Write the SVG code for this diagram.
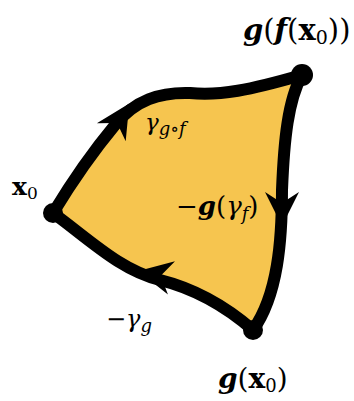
<svg xmlns="http://www.w3.org/2000/svg" width="354" height="401" viewBox="0 0 354 401">
<style>
.edge{fill:none;stroke:#000;stroke-width:12;stroke-linecap:round;stroke-linejoin:round}
.dot{fill:#000}
.lbl{font-family:"DejaVu Serif","Liberation Serif",serif;fill:#000}
.b{font-weight:bold}
.i{font-style:italic}
</style>
<defs>
<path id="ah" d="M10,0 L-24,-17 L-13,0 L-24,17 Z" fill="#000"/>
</defs>
<path id="region" d="M53,213 C70,185 90,155 115,125 C135,100 160,92 190,93 C220,96 250,90 302,75 C288,100 284,140 282,190 C282,240 278,295 253,330 C230,310 200,290 160,280 C120,270 90,240 53,213 Z" fill="#F6C54F"/>
<g id="connectors">
<path class="edge" d="M53,213 C70,185 90,155 115,125 C135,100 160,92 190,93 C220,96 250,90 302,75"/>
<path class="edge" d="M302,75 C288,100 284,140 282,190 C282,240 278,295 253,330"/>
<path class="edge" d="M253,330 C230,310 200,290 160,280 C120,270 90,240 53,213"/>
<use href="#ah" transform="translate(124,112) rotate(-58)"/>
<use href="#ah" transform="translate(282,216) rotate(90)"/>
<use href="#ah" transform="translate(148,273) rotate(192)"/>
</g>
<g id="n-x0"><circle class="dot" cx="53" cy="213" r="10"/><text class="lbl b" x="12" y="195" font-size="25">x<tspan font-size="17" font-weight="normal" dy="4">0</tspan></text></g>
<g id="n-gfx0"><circle class="dot" cx="302" cy="75" r="11"/><text class="lbl" x="243" y="40" font-size="29"><tspan class="b i">g</tspan>(<tspan class="b i">f</tspan>(<tspan class="b">x</tspan><tspan font-size="19" dy="4">0</tspan><tspan dy="-4">))</tspan></text></g>
<g id="n-gx0"><circle class="dot" cx="253" cy="330" r="10"/><text class="lbl" x="218" y="388" font-size="28"><tspan class="b i">g</tspan>(<tspan class="b">x</tspan><tspan font-size="18" dy="4">0</tspan><tspan dy="-4">)</tspan></text></g>
<text class="lbl i" x="145" y="130" font-size="23">γ<tspan font-size="18" dy="5">g∘f</tspan></text>
<text class="lbl" x="176" y="215" font-size="26">−<tspan class="b i">g</tspan>(<tspan class="i">γ</tspan><tspan class="i" font-size="18" dy="5">f</tspan><tspan dy="-5">)</tspan></text>
<text class="lbl" x="106" y="327" font-size="24">−<tspan class="i">γ</tspan><tspan class="i" font-size="18" dy="5">g</tspan></text>
</svg>
